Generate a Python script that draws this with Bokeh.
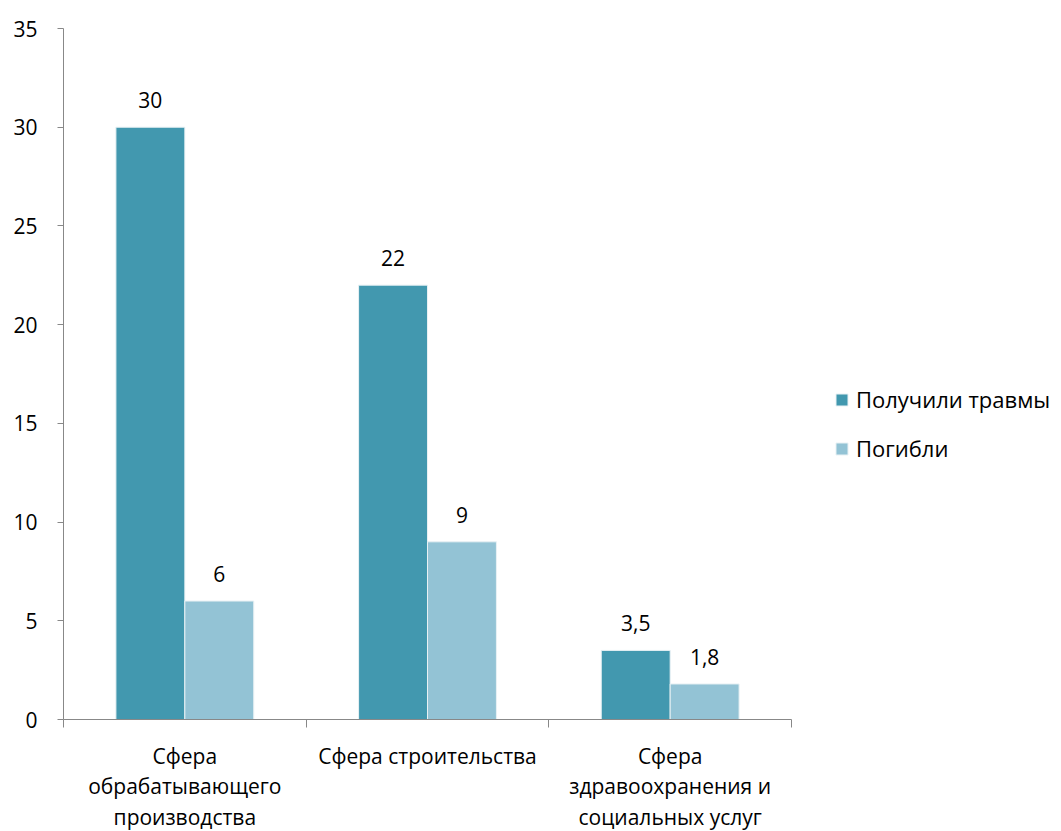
from bokeh.plotting import figure
from bokeh.models import (ColumnDataSource, Range1d, FixedTicker, LinearAxis,
                          Legend, LegendItem)
from bokeh.core.properties import value
from bokeh.embed import file_html
from bokeh.resources import INLINE
import numpy as np

categories = ["Сфера\nобрабатывающего\nпроизводства",
              "Сфера строительства",
              "Сфера\nздравоохранения и\nсоциальных услуг"]
injured = [30, 22, 3.5]
killed = [6, 9, 1.8]
injured_labels = ["30", "22", "3,5"]
killed_labels = ["6", "9", "1,8"]
series_names = ["Получили травмы", "Погибли"]
y_ticks = [0, 5, 10, 15, 20, 25, 30, 35]

FONT = "Open Sans"
FS = "21px"
DARK = "#4298AF"
LIGHT = "#93C3D5"
GRID = "#888888"

idx = np.arange(len(categories))
bw = 0.284
src_a = ColumnDataSource(dict(x=idx + 0.5 - bw / 2, y=injured, t=injured_labels))
src_b = ColumnDataSource(dict(x=idx + 0.5 + bw / 2, y=killed, t=killed_labels))

p = figure(frame_width=728, frame_height=691, output_backend="svg",
           toolbar_location=None,
           x_range=Range1d(0, len(categories)), y_range=Range1d(0, 35),
           x_axis_type=None, y_axis_type=None,
           min_border_left=63, min_border_right=270, min_border_top=28,
           min_border_bottom=112)
p.outline_line_color = None
p.background_fill_color = "white"

ra = p.vbar(x="x", top="y", width=bw, source=src_a, fill_color=DARK,
            line_color="#E8F1F4", line_width=1)
rb = p.vbar(x="x", top="y", width=bw, source=src_b, fill_color=LIGHT,
            line_color="#E8F1F4", line_width=1)

for s in (src_a, src_b):
    p.text(x="x", y="y", text="t", source=s, text_align="center",
           text_baseline="alphabetic", y_offset=-27,
           text_font=value(FONT), text_font_size=FS, text_color="#000000")

yax = LinearAxis(ticker=FixedTicker(ticks=y_ticks))
yax.axis_line_color = GRID
yax.major_tick_line_color = GRID
yax.major_tick_out = 6
yax.major_tick_in = 0
yax.minor_tick_line_color = None
yax.major_label_text_font = FONT
yax.major_label_text_font_size = FS
yax.major_label_text_color = "#000000"
yax.major_label_standoff = 20
p.add_layout(yax, "left")

xax = LinearAxis(ticker=FixedTicker(ticks=list(idx + 0.5),
                                    minor_ticks=list(range(len(categories) + 1))))
xax.major_label_overrides = {float(i + 0.5): c for i, c in enumerate(categories)}
xax.axis_line_color = GRID
xax.major_tick_line_color = None
xax.major_tick_out = 0
xax.minor_tick_line_color = GRID
xax.minor_tick_out = 8
xax.minor_tick_in = 0
xax.major_label_text_font = FONT
xax.major_label_text_font_size = FS
xax.major_label_text_color = "#000000"
xax.major_label_text_line_height = 1.09
xax.major_label_standoff = 14
p.add_layout(xax, "below")

p.ygrid.ticker = FixedTicker(ticks=y_ticks)
p.ygrid.grid_line_color = GRID
p.ygrid.grid_line_width = 1
p.xgrid.grid_line_color = None

legend = Legend(items=[LegendItem(label=series_names[0], renderers=[ra]),
                       LegendItem(label=series_names[1], renderers=[rb])],
                location=(43, 256), orientation="vertical")
legend.label_text_font = FONT
legend.label_text_font_size = "22px"
legend.label_text_color = "#000000"
legend.glyph_width = 15
legend.glyph_height = 15
legend.label_height = 29
legend.spacing = 19
legend.label_standoff = 7
legend.border_line_color = None
legend.background_fill_alpha = 0
legend.padding = 0
legend.margin = 0
p.add_layout(legend, "right")

open("out.html", "w").write(file_html(p, INLINE))
